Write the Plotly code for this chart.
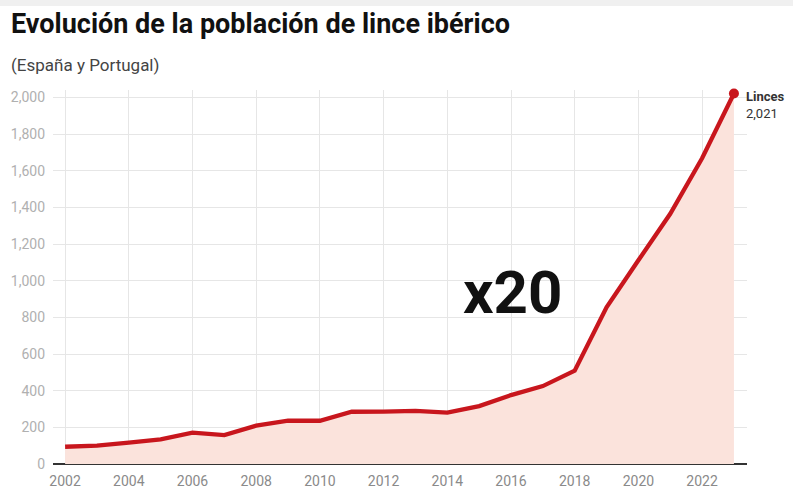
import plotly.graph_objects as go

years = list(range(2002, 2024))
linces = [94, 100, 116, 134, 171, 158, 209, 236, 236, 285, 286, 290, 280, 316, 376, 425, 509, 855, 1111, 1365, 1668, 2021]

x_ticks = list(range(2002, 2023, 2))
y_ticks = list(range(0, 2001, 200))

RED = "#c8161d"
FILL = "#fbe3dc"
FONT = "Roboto"

W, H = 793, 495
L, R, T, B = 53, 46, 90, 31
PW, PH = W - L - R, H - T - B


def px_x(px):
    return (px - L) / PW


def px_y(py):
    return 1 + (T - py) / PH


fig = go.Figure()
fig.add_trace(go.Scatter(
    x=years, y=linces, mode="lines",
    line=dict(color=RED, width=4.3),
    fill="tozeroy", fillcolor=FILL,
    hoverinfo="skip", showlegend=False,
))
fig.add_trace(go.Scatter(
    x=[years[-1]], y=[linces[-1]], mode="markers",
    marker=dict(color=RED, size=10),
    cliponaxis=False, hoverinfo="skip", showlegend=False,
))

fig.update_layout(
    width=W, height=H,
    margin=dict(l=L, r=R, t=T, b=B, autoexpand=False),
    paper_bgcolor="white", plot_bgcolor="white",
    font=dict(family=FONT, color="#333"),
    xaxis=dict(
        range=[2001.62, 2023.41],
        tickmode="array", tickvals=x_ticks, ticktext=[str(v) for v in x_ticks],
        showgrid=True, gridcolor="#e6e6e6", gridwidth=1,
        zeroline=False, showline=False, ticks="",
        ticklabelstandoff=7, automargin=False,
        tickfont=dict(family=FONT, size=14, color="#8a8a8a"),
    ),
    yaxis=dict(
        range=[0, 2040],
        tickmode="array", tickvals=y_ticks, ticktext=[f"{v:,}" for v in y_ticks],
        showgrid=True, gridcolor="#e6e6e6", gridwidth=1,
        zeroline=True, zerolinecolor="#333", zerolinewidth=1.5,
        showline=False, ticks="",
        ticklabelstandoff=7, automargin=False,
        tickfont=dict(family=FONT, size=14, color="#b0b0b0"),
    ),
    shapes=[dict(type="rect", xref="paper", yref="paper",
                 x0=px_x(0), x1=px_x(W), y0=px_y(6), y1=px_y(0),
                 fillcolor="#f0f0f0", line=dict(width=0), layer="below")],
    annotations=[
        dict(text="<b>Evolución de la población de lince ibérico</b>",
             xref="paper", yref="paper", x=px_x(9), y=px_y(24),
             xanchor="left", yanchor="middle", showarrow=False,
             font=dict(family=FONT, size=27, color="#111")),
        dict(text="(España y Portugal)",
             xref="paper", yref="paper", x=px_x(9), y=px_y(65),
             xanchor="left", yanchor="middle", showarrow=False,
             font=dict(family=FONT, size=17, color="#444")),
        dict(text="<b>x20</b>", xref="x", yref="y", x=2016.05, y=937,
             xanchor="center", yanchor="middle", showarrow=False,
             font=dict(family=FONT, size=60, color="#111")),
        dict(text="<b>Linces</b><br>2,021", xref="x", yref="y",
             x=years[-1], y=linces[-1], xshift=10, yshift=6,
             xanchor="left", yanchor="top", align="left", showarrow=False,
             font=dict(family=FONT, size=13, color="#333")),
    ],
)

fig.write_html(
    "out.html",
    config={"displayModeBar": False},
    post_script="document.body.style.margin='0';document.body.style.overflow='hidden';",
)
